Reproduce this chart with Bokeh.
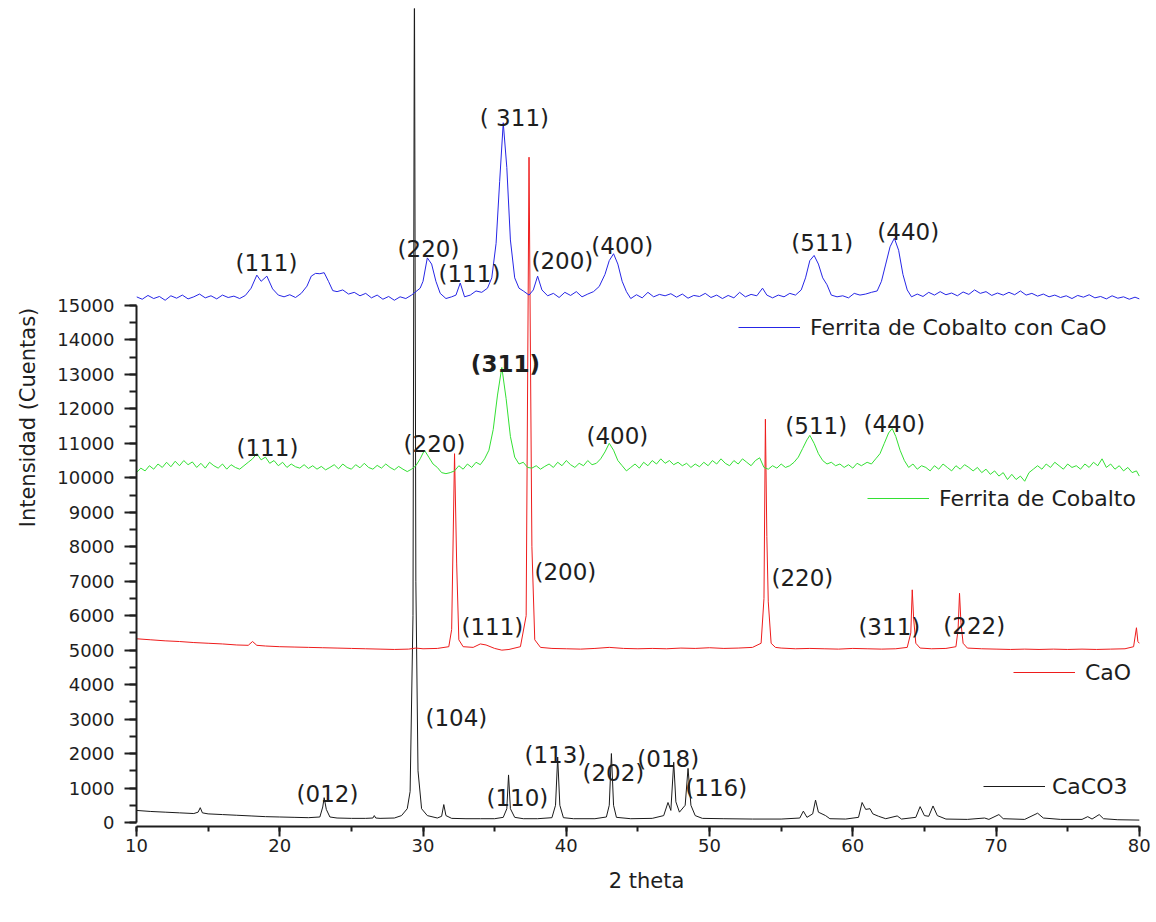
from bokeh.plotting import figure
from bokeh.models import Range1d, SingleIntervalTicker, Legend, LegendItem
from bokeh.core.properties import value
from bokeh.embed import file_html
from bokeh.resources import INLINE

# ---------------- data (2 theta, counts) ----------------
caco3_pts = [(10.0, 350), (11.0, 320), (12.0, 300), (13.0, 280), (14.0, 260), (14.3, 300), (14.45, 430),
             (14.6, 280), (15.0, 250), (16.0, 230), (17.0, 210), (18.0, 190), (19.0, 170), (20.0, 160),
             (21.0, 150), (22.0, 140), (22.8, 160), (23.0, 450), (23.1, 720), (23.25, 380), (23.5, 160),
             (24.0, 130), (25.0, 120), (26.0, 120), (26.5, 130), (26.6, 200), (26.7, 130), (27.0, 120),
             (28.0, 130), (28.5, 200), (28.9, 400), (29.1, 900), (29.3, 6000), (29.4, 25000), (29.5, 7000),
             (29.65, 1500), (29.9, 400), (30.3, 200), (31.0, 130), (31.3, 180), (31.45, 520), (31.6, 200),
             (32.0, 120), (33.0, 110), (34.0, 110), (35.0, 110), (35.6, 150), (35.85, 400), (35.97, 1380),
             (36.1, 400), (36.4, 150), (37.0, 110), (38.0, 110), (39.0, 140), (39.25, 500), (39.4, 1900),
             (39.55, 500), (39.8, 140), (40.5, 110), (42.0, 110), (42.8, 160), (43.0, 500), (43.15, 2000),
             (43.3, 500), (43.5, 150), (44.5, 110), (46.0, 120), (46.8, 200), (47.1, 580), (47.3, 350),
             (47.5, 1750), (47.65, 600), (47.9, 300), (48.3, 500), (48.5, 1570), (48.7, 500), (49.0, 200),
             (49.5, 120), (51.0, 110), (53.0, 100), (55.0, 100), (56.3, 130), (56.55, 330), (56.8, 150),
             (57.2, 250), (57.4, 650), (57.6, 300), (58.1, 200), (58.4, 110), (59.5, 100), (60.4, 150),
             (60.65, 580), (60.9, 380), (61.2, 400), (61.4, 250), (61.8, 180), (62.3, 110), (63.1, 190),
             (63.4, 100), (64.4, 150), (64.7, 460), (65.0, 200), (65.3, 180), (65.6, 480), (65.9, 200),
             (66.5, 100), (68.0, 90), (69.2, 130), (69.5, 90), (70.2, 230), (70.5, 110), (72.0, 90),
             (72.9, 270), (73.3, 130), (74.5, 90), (76.0, 90), (76.4, 170), (76.7, 100), (77.2, 230),
             (77.5, 110), (78.5, 80), (80.0, 70)]

cao_pts = [(10.0, 5330), (11.0, 5300), (12.0, 5270), (13.0, 5250), (14.0, 5220), (15.0, 5200), (16.0, 5180),
           (17.0, 5150), (17.8, 5140), (18.1, 5250), (18.4, 5140), (19.0, 5120), (20.0, 5100), (21.0, 5090),
           (22.0, 5080), (23.0, 5070), (24.0, 5060), (25.0, 5050), (26.0, 5040), (27.0, 5030), (28.0, 5020),
           (29.0, 5030), (29.5, 5060), (30.0, 5040), (31.0, 5050), (31.8, 5100), (32.0, 5600), (32.2, 10700),
           (32.35, 7500), (32.5, 5300), (32.8, 5100), (33.5, 5080), (34.0, 5180), (34.4, 5150), (35.0, 5050),
           (35.5, 5000), (36.0, 5020), (36.8, 5100), (37.2, 6000), (37.4, 19300), (37.5, 13500), (37.6, 8000),
           (37.8, 5300), (38.2, 5080), (39.0, 5050), (40.0, 5040), (41.0, 5030), (42.0, 5050), (43.0, 5080),
           (44.0, 5050), (45.0, 5040), (46.0, 5050), (47.0, 5040), (48.0, 5060), (49.0, 5050), (50.0, 5070),
           (51.0, 5050), (52.0, 5060), (53.0, 5080), (53.6, 5200), (53.8, 6500), (53.9, 11700), (54.0, 8300),
           (54.1, 6400), (54.3, 5200), (54.6, 5080), (55.0, 5060), (56.0, 5040), (57.0, 5050), (58.0, 5040),
           (59.0, 5030), (60.0, 5050), (61.0, 5040), (62.0, 5030), (63.0, 5040), (63.8, 5080), (64.05, 5500),
           (64.15, 6750), (64.25, 5900), (64.4, 5200), (64.7, 5060), (65.5, 5040), (66.5, 5050), (67.2, 5100),
           (67.35, 5600), (67.45, 6650), (67.55, 5800), (67.7, 5200), (68.0, 5060), (69.0, 5040), (70.0, 5030),
           (71.0, 5020), (72.0, 5030), (73.0, 5020), (74.0, 5030), (75.0, 5020), (76.0, 5030), (77.0, 5020),
           (78.0, 5030), (79.0, 5040), (79.6, 5100), (79.8, 5650), (79.9, 5250), (80.0, 5200)]

ferrita_pts = [(10.0, 10150), (10.3, 10280), (10.6, 10200), (10.9, 10350), (11.2, 10250), (11.5, 10400),
               (11.8, 10300), (12.1, 10450), (12.4, 10320), (12.7, 10480), (13.0, 10350), (13.3, 10500),
               (13.6, 10380), (13.9, 10460), (14.2, 10300), (14.5, 10420), (14.8, 10280), (15.1, 10450),
               (15.4, 10350), (15.7, 10280), (16.0, 10400), (16.3, 10250), (16.6, 10380), (16.9, 10300),
               (17.2, 10250), (17.5, 10350), (17.8, 10450), (18.1, 10550), (18.4, 10700), (18.7, 10520),
               (19.0, 10600), (19.3, 10420), (19.6, 10500), (19.9, 10350), (20.2, 10450), (20.5, 10300),
               (20.8, 10400), (21.1, 10320), (21.4, 10280), (21.7, 10380), (22.0, 10270), (22.3, 10350),
               (22.6, 10250), (22.9, 10330), (23.2, 10230), (23.5, 10300), (23.8, 10380), (24.1, 10260),
               (24.4, 10400), (24.7, 10300), (25.0, 10250), (25.3, 10380), (25.6, 10290), (25.9, 10420),
               (26.2, 10300), (26.5, 10250), (26.8, 10360), (27.1, 10280), (27.4, 10400), (27.7, 10300),
               (28.0, 10230), (28.3, 10330), (28.6, 10250), (28.9, 10180), (29.2, 10250), (29.5, 10350),
               (29.8, 10550), (30.1, 10800), (30.4, 10600), (30.7, 10400), (31.0, 10300), (31.3, 10150),
               (31.6, 10120), (31.9, 10150), (32.2, 10200), (32.5, 10350), (32.8, 10250), (33.1, 10400),
               (33.4, 10300), (33.7, 10450), (34.0, 10380), (34.3, 10550), (34.6, 10800), (34.9, 11400),
               (35.2, 12400), (35.5, 13200), (35.8, 12300), (36.1, 11200), (36.4, 10600), (36.7, 10400),
               (37.0, 10450), (37.3, 10300), (37.6, 10280), (37.9, 10350), (38.2, 10250), (38.5, 10330),
               (38.8, 10400), (39.1, 10300), (39.4, 10450), (39.7, 10350), (40.0, 10500), (40.3, 10380),
               (40.6, 10300), (40.9, 10420), (41.2, 10350), (41.5, 10500), (41.8, 10380), (42.1, 10420),
               (42.4, 10550), (42.7, 10750), (43.0, 11000), (43.3, 10800), (43.6, 10500), (43.9, 10350),
               (44.2, 10200), (44.5, 10300), (44.8, 10400), (45.1, 10280), (45.4, 10450), (45.7, 10350),
               (46.0, 10500), (46.3, 10400), (46.6, 10550), (46.9, 10420), (47.2, 10500), (47.5, 10380),
               (47.8, 10450), (48.1, 10350), (48.4, 10420), (48.7, 10300), (49.0, 10400), (49.3, 10320),
               (49.6, 10450), (49.9, 10350), (50.2, 10500), (50.5, 10400), (50.8, 10550), (51.1, 10420),
               (51.4, 10350), (51.7, 10500), (52.0, 10400), (52.3, 10550), (52.6, 10450), (52.9, 10350),
               (53.2, 10500), (53.5, 10580), (53.8, 10300), (54.1, 10250), (54.4, 10350), (54.7, 10280),
               (55.0, 10400), (55.3, 10300), (55.6, 10350), (55.9, 10450), (56.2, 10600), (56.5, 10850),
               (56.8, 11100), (57.0, 11230), (57.3, 11000), (57.6, 10700), (57.9, 10500), (58.2, 10400),
               (58.5, 10450), (58.8, 10350), (59.1, 10400), (59.4, 10300), (59.7, 10380), (60.0, 10280),
               (60.3, 10420), (60.6, 10350), (61.0, 10450), (61.3, 10400), (61.6, 10550), (61.9, 10700),
               (62.2, 11000), (62.5, 11300), (62.75, 11430), (63.0, 11200), (63.3, 10800), (63.6, 10500),
               (63.9, 10300), (64.2, 10400), (64.5, 10250), (64.8, 10350), (65.1, 10300), (65.4, 10200),
               (65.7, 10350), (66.0, 10250), (66.3, 10400), (66.6, 10300), (66.9, 10200), (67.2, 10350),
               (67.5, 10250), (67.8, 10380), (68.1, 10300), (68.4, 10200), (68.7, 10300), (69.0, 10150),
               (69.3, 10250), (69.6, 10100), (69.9, 10200), (70.2, 10050), (70.5, 10150), (70.8, 9950),
               (71.1, 10100), (71.4, 9950), (71.7, 10050), (72.0, 9900), (72.3, 10150), (72.6, 10250),
               (72.9, 10350), (73.2, 10250), (73.5, 10400), (73.8, 10300), (74.1, 10450), (74.4, 10350),
               (74.7, 10250), (75.0, 10400), (75.3, 10300), (75.6, 10350), (75.9, 10250), (76.2, 10400),
               (76.5, 10300), (76.8, 10450), (77.1, 10350), (77.4, 10550), (77.7, 10300), (78.0, 10400),
               (78.3, 10250), (78.6, 10350), (78.9, 10200), (79.2, 10300), (79.5, 10150), (79.8, 10200),
               (80.0, 10050)]

ferrita_cao_pts = [(10.0, 15250), (10.4, 15180), (10.8, 15290), (11.2, 15200), (11.6, 15260), (12.0, 15150),
                   (12.4, 15280), (12.8, 15210), (13.2, 15300), (13.6, 15190), (14.0, 15250), (14.4, 15330),
                   (14.8, 15220), (15.2, 15280), (15.6, 15190), (16.0, 15300), (16.4, 15230), (16.8, 15270),
                   (17.2, 15200), (17.6, 15290), (18.0, 15500), (18.4, 15880), (18.7, 15700), (19.1, 15850),
                   (19.5, 15480), (19.9, 15300), (20.3, 15250), (20.7, 15310), (21.1, 15230), (21.5, 15350),
                   (21.9, 15560), (22.2, 15850), (22.5, 15930), (22.8, 15920), (23.1, 15950), (23.4, 15700),
                   (23.7, 15430), (24.0, 15400), (24.4, 15450), (24.8, 15330), (25.2, 15380), (25.6, 15280),
                   (26.0, 15350), (26.4, 15220), (26.8, 15300), (27.2, 15180), (27.6, 15260), (28.0, 15150),
                   (28.4, 15250), (28.8, 15200), (29.2, 15300), (29.5, 15400), (29.8, 15500), (30.0, 15700),
                   (30.3, 16380), (30.6, 16200), (30.9, 15700), (31.2, 15350), (31.6, 15200), (32.0, 15250),
                   (32.3, 15300), (32.6, 15650), (32.9, 15250), (33.3, 15300), (33.7, 15420), (34.1, 15380),
                   (34.5, 15500), (34.8, 15800), (35.1, 16800), (35.35, 18600), (35.6, 20300), (35.85, 19000),
                   (36.1, 16900), (36.4, 15800), (36.7, 15500), (37.0, 15420), (37.4, 15300), (37.7, 15450),
                   (38.0, 15850), (38.3, 15450), (38.7, 15280), (39.1, 15350), (39.5, 15230), (39.9, 15380),
                   (40.3, 15290), (40.7, 15400), (41.1, 15250), (41.5, 15330), (41.9, 15400), (42.3, 15550),
                   (42.7, 15900), (43.0, 16300), (43.3, 16500), (43.6, 16200), (43.9, 15700), (44.2, 15400),
                   (44.5, 15200), (44.9, 15310), (45.3, 15220), (45.7, 15380), (46.1, 15250), (46.5, 15320),
                   (46.9, 15280), (47.3, 15340), (47.7, 15240), (48.1, 15330), (48.5, 15210), (48.9, 15290),
                   (49.3, 15260), (49.7, 15350), (50.1, 15230), (50.5, 15300), (50.9, 15200), (51.3, 15290),
                   (51.7, 15220), (52.1, 15380), (52.5, 15250), (52.9, 15320), (53.3, 15280), (53.7, 15500),
                   (54.0, 15300), (54.4, 15220), (54.8, 15300), (55.2, 15250), (55.6, 15350), (56.0, 15300),
                   (56.4, 15450), (56.7, 15800), (57.0, 16300), (57.3, 16450), (57.6, 16200), (57.9, 15800),
                   (58.2, 15600), (58.5, 15300), (58.9, 15250), (59.3, 15280), (59.7, 15220), (60.1, 15350),
                   (60.5, 15300), (60.9, 15330), (61.3, 15380), (61.7, 15420), (62.0, 15700), (62.3, 16200),
                   (62.6, 16700), (62.9, 16950), (63.2, 16600), (63.5, 15900), (63.8, 15450), (64.1, 15250),
                   (64.5, 15330), (64.9, 15260), (65.3, 15380), (65.7, 15300), (66.1, 15400), (66.5, 15310),
                   (66.9, 15360), (67.3, 15280), (67.7, 15390), (68.1, 15320), (68.5, 15450), (68.9, 15350),
                   (69.3, 15400), (69.7, 15290), (70.1, 15360), (70.5, 15300), (70.9, 15380), (71.3, 15310),
                   (71.7, 15420), (72.1, 15300), (72.5, 15350), (72.9, 15270), (73.3, 15330), (73.7, 15250),
                   (74.1, 15300), (74.5, 15230), (74.9, 15280), (75.3, 15200), (75.7, 15290), (76.1, 15240),
                   (76.5, 15310), (76.9, 15220), (77.3, 15260), (77.7, 15190), (78.1, 15280), (78.5, 15210),
                   (78.9, 15250), (79.3, 15180), (79.7, 15240), (80.0, 15190)]

# peak labels: (text, 2theta, counts)
caco3_labels = [("(012)", 23.33, 840), ("(104)", 32.33, 3020), ("(110)", 36.59, 725), ("(113)", 39.24, 1945),
                ("(202)", 43.29, 1450), ("(018)", 47.12, 1830), ("(116)", 50.47, 1015)]
cao_labels = [("(111)", 34.84, 5660), ("(200)", 39.94, 7280), ("(220)", 56.48, 7080), ("(311)", 62.55, 5660),
              ("(222)", 68.48, 5710)]
ferrita_labels = [("(111)", 19.14, 10875), ("(220)", 30.8, 10990), ("(400)", 43.57, 11220),
                  ("(511)", 57.45, 11510), ("(440)", 62.9, 11570)]
ferrita_bold_labels = [("(311)", 35.75, 13310)]
ferrita_cao_labels = [("(111)", 19.07, 16240), ("(220)", 30.38, 16650), ("(111)", 33.24, 15920),
                      ("( 311)", 36.38, 20440), ("(200)", 39.73, 16300), ("(400)", 43.91, 16730),
                      ("(511)", 57.87, 16820), ("(440)", 63.87, 17140)]

series_names = ["CaCO3", "CaO", "Ferrita de Cobalto", "Ferrita de Cobalto con CaO"]
x_axis_span = (10, 80)
y_axis_span = (0, 15000)

# ---------------- styling ----------------
FONT = "DejaVu Sans"
TXT = "#1e1e1e"
colors = {"CaCO3": "#1a1a1a", "CaO": "#ee1c1c", "Ferrita de Cobalto": "#33e033",
          "Ferrita de Cobalto con CaO": "#2626e6"}

p = figure(width=1156, height=916, output_backend="svg", toolbar_location=None,
           x_range=Range1d(10, 81.2), y_range=Range1d(-116, 23614),
           min_border_left=136, min_border_right=0, min_border_top=8, min_border_bottom=90,
           x_axis_label="2 theta", y_axis_label="Intensidad (Cuentas)")
p.outline_line_color = None
p.grid.visible = False
p.background_fill_color = "white"

for ax in (p.xaxis[0], p.yaxis[0]):
    ax.axis_line_width = 2
    ax.axis_line_color = TXT
    ax.major_tick_line_width = 2
    ax.major_tick_line_color = TXT
    ax.minor_tick_line_width = 2
    ax.minor_tick_line_color = TXT
    ax.major_tick_in = 0
    ax.minor_tick_in = 0
    ax.major_label_text_font = FONT
    ax.major_label_text_font_size = "18px"
    ax.major_label_text_color = TXT
    ax.axis_label_text_font = FONT
    ax.axis_label_text_font_size = "21px"
    ax.axis_label_text_font_style = "normal"
    ax.axis_label_text_color = TXT

xa = p.xaxis[0]
xa.ticker = SingleIntervalTicker(interval=10, num_minor_ticks=2)
xa.bounds = x_axis_span
xa.major_tick_out = 10
xa.minor_tick_out = 5
xa.major_label_standoff = 2
xa.axis_label_standoff = 14

ya = p.yaxis[0]
ya.ticker = SingleIntervalTicker(interval=1000, num_minor_ticks=2)
ya.bounds = y_axis_span
ya.major_tick_out = 12
ya.minor_tick_out = 7
ya.major_label_standoff = 10
ya.axis_label_standoff = 14

all_pts = [caco3_pts, cao_pts, ferrita_pts, ferrita_cao_pts]
renderers = {}
for name, pts in zip(series_names, all_pts):
    xs = [a for a, b in pts]
    ys = [b for a, b in pts]
    renderers[name] = p.line(xs, ys, line_color=colors[name], line_width=1)

def add_labels(lbls, style="normal"):
    p.text(x=[a[1] for a in lbls], y=[a[2] for a in lbls], text=[a[0] for a in lbls],
           text_align="center", text_baseline="middle", text_font=value(FONT),
           text_font_size="23px", text_color=TXT, text_font_style=style)

add_labels(caco3_labels)
add_labels(cao_labels)
add_labels(ferrita_labels)
add_labels(ferrita_bold_labels, "bold")
add_labels(ferrita_cao_labels)

# legends, one per curve, each placed beside its curve (screen px from frame bottom-left)
legend_locs = {"Ferrita de Cobalto con CaO": (602, 486, 10), "Ferrita de Cobalto": (731, 315, 10),
               "CaO": (877, 141, 10), "CaCO3": (847, 27, 7)}
for name in series_names:
    lx, ly, so = legend_locs[name]
    lg = Legend(items=[LegendItem(label=name, renderers=[renderers[name]])], location=(lx, ly),
                border_line_color=None, background_fill_alpha=0, padding=0, margin=0,
                glyph_width=62, glyph_height=26, label_height=26, label_standoff=so,
                label_text_font=FONT, label_text_font_size="22px", label_text_color=TXT)
    p.add_layout(lg)

open("out.html", "w").write(file_html(p, INLINE))
